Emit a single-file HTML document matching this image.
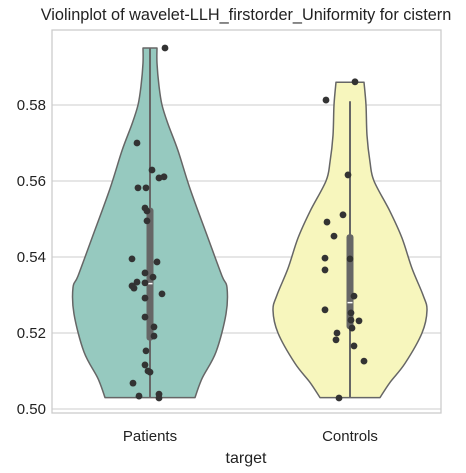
<!DOCTYPE html>
<html><head><meta charset="utf-8"><style>
body{margin:0;background:#fff;}
svg{display:block;font-family:"Liberation Sans",sans-serif;}
</style></head><body>
<svg id="chart" width="466" height="473"></svg>
<script>
const categories=["Patients","Controls"];
const yTicks=[0.50,0.52,0.54,0.56,0.58];
const patientsValues=[0.595,0.570,0.5629,0.5608,0.5611,0.5582,0.5582,0.5529,0.5521,0.5495,0.5395,0.5387,0.5358,0.5347,0.5334,0.5332,0.5324,0.5318,0.5303,0.5292,0.5242,0.5216,0.5192,0.5153,0.5116,0.5100,0.5097,0.5068,0.5034,0.5039,0.5029];
const patientsJitter=[15,-13,2,9,14,-12,-4,-5,-3,-3,-18,7,-5,3,-13,-5,-18,-16,12,-5,-5,4,4,-4,-5,-2,0,-17,-11,9,9];
const controlsValues=[0.5861,0.5813,0.5616,0.5511,0.5492,0.5455,0.5397,0.5395,0.5366,0.5297,0.5261,0.5253,0.5234,0.5232,0.5213,0.5200,0.5182,0.5166,0.5126,0.5029];
const controlsJitter=[5,-24,-2,-7,-23,-16,-25,0,-25,4,-25,1,1,9,2,-13,-14,4,14,-11];
const patientsDensityV=[0.595,0.591,0.585,0.580,0.575,0.568,0.558,0.545,0.535,0.532,0.525,0.515,0.508,0.503];
const patientsDensityW=[7,7,9,12,18,28,40,58,72,77,76,66,52,45];
const controlsDensityV=[0.586,0.580,0.572,0.565,0.560,0.552,0.545,0.537,0.530,0.526,0.520,0.512,0.507,0.503];
const controlsDensityW=[14,16,17,20,24,40,52,62,73,77,72,55,40,30];
const boxStats=[{q1:0.518,q3:0.553,med:0.533,lo:0.503,hi:0.595},{q1:0.521,q3:0.546,med:0.528,lo:0.503,hi:0.581}];
const fills=["#96c9bf","#f7f6bd"];

const svg=document.getElementById('chart');
const NS="http://www.w3.org/2000/svg";
const L=52,R=441,T=30,B=413;
function y(v){return 409-(v-0.5)*3800;}
function x(i){return 150+i*200;}
function mk(tag,attrs,parent){const e=document.createElementNS(NS,tag);for(const k in attrs)e.setAttribute(k,attrs[k]);(parent||svg).appendChild(e);return e;}
function smooth(P){
  let d="";
  for(let k=0;k<P.length-1;k++){
    const p0=P[Math.max(0,k-1)],p1=P[k],p2=P[k+1],p3=P[Math.min(P.length-1,k+2)];
    const c1=[p1[0]+(p2[0]-p0[0])/6,p1[1]+(p2[1]-p0[1])/6];
    const c2=[p2[0]-(p3[0]-p1[0])/6,p2[1]-(p3[1]-p1[1])/6];
    d+=" C"+c1[0]+","+c1[1]+" "+c2[0]+","+c2[1]+" "+p2[0]+","+p2[1];
  }
  return d;
}

let t=mk('text',{x:246,y:20,'text-anchor':'middle','font-size':16.3,fill:'#222'});
t.textContent="Violinplot of wavelet-LLH_firstorder_Uniformity for cistern";



yTicks.forEach(v=>{
  const g=mk('line',{x1:L,x2:R,y1:y(v),y2:y(v),stroke:'#cccccc','stroke-width':1});
  
  
  const lb=mk('text',{x:L-6,y:y(v)+5,'text-anchor':'end','font-size':15,fill:'#222'});
  lb.textContent=v.toFixed(2);
  
  
});
const frame=mk('rect',{x:L,y:T,width:R-L,height:B-T,fill:'none',stroke:'#cccccc','stroke-width':1.3});



const dens=[[patientsDensityV,patientsDensityW],[controlsDensityV,controlsDensityW]];
const pts=[[patientsValues,patientsJitter],[controlsValues,controlsJitter]];
categories.forEach((c,i)=>{
  const [dv,dw]=dens[i];const cx=x(i);
  const left=dv.map((v,k)=>[cx-dw[k],y(v)]);
  const right=dv.map((v,k)=>[cx+dw[k],y(v)]).reverse();
  let d="M"+left[0][0]+","+left[0][1]+smooth(left)+" L"+right[0][0]+","+right[0][1]+smooth(right)+"Z";
  const vp=mk('path',{d:d,fill:fills[i],stroke:'#666','stroke-width':1.5,'stroke-linejoin':'round'});
  
  
  const s=boxStats[i];
  const wl=mk('line',{x1:cx,x2:cx,y1:y(s.lo),y2:y(s.hi),stroke:'#666','stroke-width':2});
  
  
  const bx=mk('rect',{x:cx-3.5,y:y(s.q3),width:7,height:y(s.q1)-y(s.q3),rx:3,fill:'#666'});
  
  
  const md=mk('line',{x1:cx-2.5,x2:cx+2.5,y1:y(s.med),y2:y(s.med),stroke:'#fff','stroke-width':1.5});
  
  
  const [vals,jit]=pts[i];
  vals.forEach((v,k)=>{
    const p=mk('circle',{cx:cx+jit[k],cy:y(v),r:3.4,fill:'#333'});
    
    
  });
  const lb=mk('text',{x:cx,y:441,'text-anchor':'middle','font-size':15,fill:'#222'});
  lb.textContent=c;
  
  
});
const xt=mk('text',{x:246,y:463,'text-anchor':'middle','font-size':16,fill:'#222'});
xt.textContent="target";


</script>
</body></html>
